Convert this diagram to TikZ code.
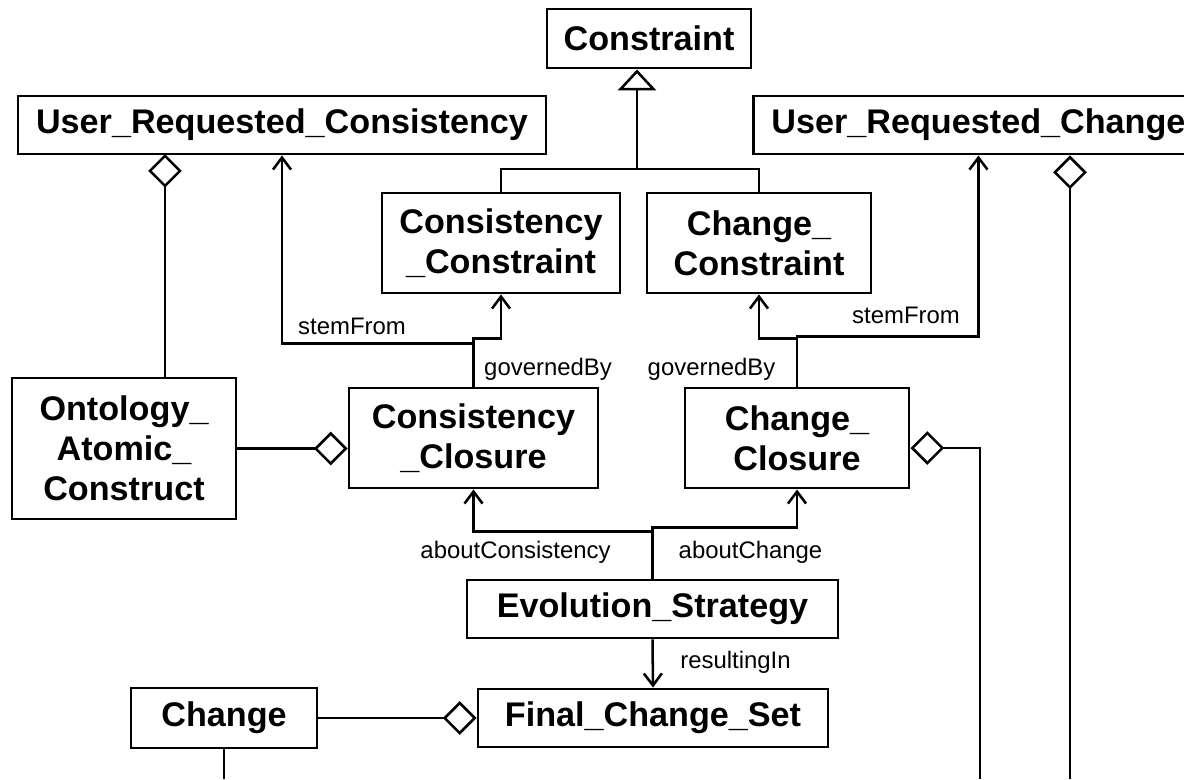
\documentclass[tikz,border=0pt]{standalone}
\usepackage{fontspec}
\setmainfont{Liberation Sans}
\usetikzlibrary{arrows.meta}

\tikzset{
  cls/.style={rectangle, draw, line width=2.1pt, inner sep=0pt, align=center, font=\bfseries\fontsize{24.3}{28.5}\selectfont},
  sz/.style 2 args={minimum width=#1*0.025cm, minimum height=#2*0.025cm},
  lbl/.style={font=\fontsize{17}{20}\selectfont, inner sep=0pt},
  agg/.style={{Diamond[open, length=0.84cm, width=0.84cm]}-},
  gen/.style={-{Triangle[open, length=0.52cm, width=0.95cm]}},
}

\begin{document}
\begin{tikzpicture}[x=0.025cm, y=-0.025cm, line width=1.8pt, >={Straight Barb[length=0.3cm, width=0.45cm]}]
    \clip (0,0) rectangle (1184,779);

    % classes
    \node[cls, sz={204}{59}] (cons) at (649,38.5) {Constraint};
    \node[cls, sz={528}{58}] (urcons) at (282,125) {User\_Requested\_Consistency};
    \node[cls, anchor=west, minimum height=58*0.025cm, inner xsep=0.45cm] (urchg) at (752,125) {User\_Requested\_Change};
    \node[cls, sz={238}{100}] (ccon) at (501,243) {Consistency\\\_Constraint};
    \node[cls, sz={224}{100}] (chcon) at (759,243) {Change\_\\Constraint};
    \node[cls, sz={224}{141}] (onto) at (124,448.5) {Ontology\_\\Atomic\_\\Construct};
    \node[cls, sz={249}{100}] (cclo) at (473.5,438) {Consistency\\\_Closure};
    \node[cls, sz={224}{100}] (chclo) at (797,438) {Change\_\\Closure};
    \node[cls, sz={371}{58}] (evo) at (652.5,609) {Evolution\_Strategy};
    \node[cls, sz={350}{58}] (fcs) at (653,718) {Final\_Change\_Set};
    \node[cls, sz={186}{60}] (chg) at (224,718) {Change};

    % free ends
    \coordinate (gen) at (637,169);
    \coordinate (aUC) at (165,154);
    \coordinate (endA) at (980,779);
    \coordinate (endB) at (1070,779);
    \coordinate (endC) at (224,779);

    % generalisation
    \draw[gen] (gen) -- (gen |- cons.south);
    \draw (ccon.north) |- (gen) -| (chcon.north);

    % associations
    \draw[->] (cclo.north) -- ++(0,-43) -| (urcons.south);
    \draw[->] (cclo.north) -- ++(0,-48) -| (ccon.south);
    \draw[->] (chclo.north) -- ++(0,-48) -| (chcon.south);
    \draw[->] (chclo.north) -- ++(0,-50) -| (urchg.south);
    \draw[->] (evo.north) -- ++(0,-47) -| (cclo.south);
    \draw[->] (evo.north) -- ++(0,-51) -| (chclo.south);
    \draw[->] (evo.south) -- (fcs.north);

    \node[lbl] (l1) at (352,326) {stemFrom};
    \node[lbl] (l2) at (548,369) {governedBy};
    \node[lbl] (l3) at (711.5,369) {governedBy};
    \node[lbl] (l4) at (906,315) {stemFrom};
    \node[lbl] (l5) at (515.5,552) {aboutConsistency};
    \node[lbl] (l6) at (750.5,552) {aboutChange};
    \node[lbl] (l7) at (735.5,662) {resultingIn};

    % aggregations
    \draw[agg] (aUC) -- (aUC |- onto.north);
    \draw[agg] (cclo.west |- onto.east) -- (onto.east);
    \draw[agg] ([yshift=-0.25cm]chclo.east) -| (endA);
    \draw[agg] (endB |- urchg.south) -- (endB);
    \draw[agg] (fcs.west) -- (chg.east);
    \draw (chg.south) -- (endC);
\end{tikzpicture}
\end{document}
